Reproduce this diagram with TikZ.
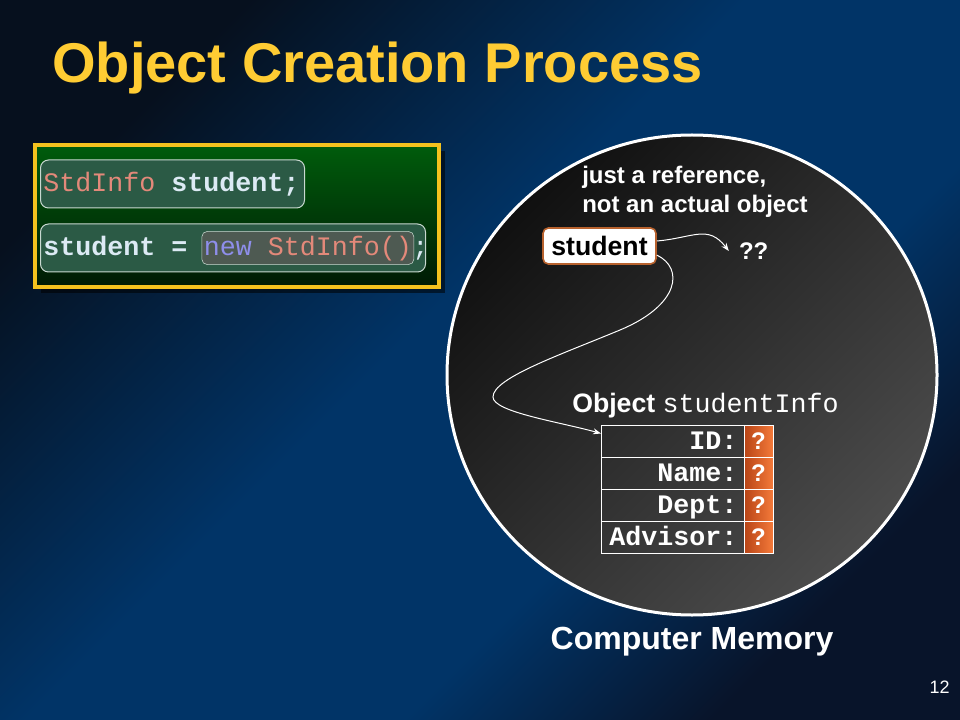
\documentclass[tikz,border=0pt]{standalone}
\usepackage{fontspec}
\setmainfont{Liberation Sans}
\setmonofont{Liberation Mono}
\usepackage{tikz}
\usetikzlibrary{arrows.meta, positioning, shapes.geometric, shadows}

\definecolor{bgDark}{HTML}{06101E}
\definecolor{bgNavy}{HTML}{013467}
\definecolor{bgDeep}{HTML}{08142A}
\definecolor{titleYellow}{HTML}{FFCC33}
\definecolor{panelYellow}{HTML}{F4C21E}
\definecolor{panelTop}{HTML}{005C0C}
\definecolor{panelBottom}{HTML}{001A04}
\definecolor{codeFill}{HTML}{2B5A45}
\definecolor{codeLine}{HTML}{C8D8D0}
\definecolor{codeWhite}{HTML}{DCEAF4}
\definecolor{typeSalmon}{HTML}{E3897A}
\definecolor{keywordBlue}{HTML}{8E8EEA}
\definecolor{hlFill}{HTML}{4E5A52}
\definecolor{memDark}{HTML}{101010}
\definecolor{memLight}{HTML}{4C4C4C}
\definecolor{refBorder}{HTML}{B8622E}
\definecolor{orangeDark}{HTML}{B84416}
\definecolor{orangeLight}{HTML}{F47A3A}

\pgfdeclarehorizontalshading{slideBack}{100bp}{color(0bp)=(bgDark); color(25bp)=(bgDark); color(46bp)=(bgNavy); color(62bp)=(bgNavy); color(75bp)=(bgDeep); color(100bp)=(bgDeep)}

\begin{document}
\begin{tikzpicture}[x=0.75pt, y=-0.75pt, node distance=2cm,
    codebox/.style={draw=codeLine, line width=0.75pt, fill=codeFill, rounded corners=6pt, minimum height=36pt, inner sep=0pt},
    codetext/.style={font=\ttfamily\bfseries\fontsize{20}{24}\selectfont, text=codeWhite, inner sep=0pt, text height=16pt, text depth=4pt},
    whitetext/.style={font=\bfseries\fontsize{18}{21.75}\selectfont, text=white, inner sep=0pt},
    labelcell/.style={draw=white, line width=0.75pt, outer sep=0pt, minimum height=24pt, text width=97.25pt, inner xsep=5pt, inner ysep=0pt, align=right, font=\ttfamily\bfseries\fontsize{20}{24}\selectfont, text=white, text height=15pt, text depth=3pt},
    valuecell/.style={draw=white, line width=0.75pt, outer sep=0pt, minimum width=21.75pt, minimum height=24pt, inner sep=0pt, left color=orangeDark, right color=orangeLight, font=\bfseries\fontsize{18}{22}\selectfont, text=white, text height=15pt, text depth=3pt},
    link/.style={draw=white, line width=0.75pt, -{Stealth[length=6pt, width=4.5pt]}}]

    % Slide background
    \useasboundingbox (0,0) rectangle (960,720);
    \shade[shading=slideBack, shading angle=-45] (0,0) rectangle (960,720);

    % Title
    \node (title) [anchor=base west, inner sep=0pt, text=titleYellow, font=\bfseries\fontsize{42}{50}\selectfont] at (52,83) {Object Creation Process};

    % Code panel with the two statements
    \node (codePanel) [draw=panelYellow, line width=3pt, top color=panelTop, bottom color=panelBottom, minimum width=303pt, minimum height=106.5pt, drop shadow={shadow xshift=4.5pt, shadow yshift=-4.5pt, fill=black, opacity=0.55}] at (237,216) {};
    \node (declBox) [codebox, minimum width=198pt, anchor=west] at (40,184) {};
    \node (declText) [codetext, anchor=west] at ([xshift=2.25pt]declBox.west) {\textcolor{typeSalmon}{\mdseries StdInfo} student;};
    \node (assignBox) [codebox, minimum width=288.75pt, anchor=west] at (40,248) {};
    \node (assignLhs) [codetext, anchor=west] at ([xshift=2.25pt]assignBox.west) {student =};
    \node (newExpr) [codetext, draw=codeLine, fill=hlFill, rounded corners=4pt, inner xsep=1.5pt, inner ysep=2.4pt, right=10.5pt of assignLhs] {\mdseries\textcolor{keywordBlue}{new} \textcolor{typeSalmon}{StdInfo()}};
    \node (assignEnd) [codetext, right=-1.5pt of newExpr] {\mdseries;};

    % Computer memory
    \node (memory) [ellipse, draw=white, line width=2.25pt, minimum width=367.5pt, minimum height=360pt, inner sep=0pt, top color=memDark, bottom color=memLight, shading angle=45] at (692,375) {};
    \node (memLabel) [whitetext, font=\bfseries\fontsize{24}{28}\selectfont, below=8pt of memory] {Computer Memory};

    % Reference variable
    \node (justRef) [whitetext, align=left, anchor=north west] at (582,166) {just a reference,\\not an actual object};
    \node (student) [draw=refBorder, line width=1.2pt, fill=white, rounded corners=4pt, minimum width=84.75pt, minimum height=27pt, inner sep=0pt, font=\bfseries\fontsize{20}{24}\selectfont] at (599.5,246) {student};
    \node (qmarks) [whitetext, inner xsep=7.5pt, right=54pt of student, yshift=-3.75pt] {??};

    % Object fields
    \node (objTitle) [whitetext, font=\bfseries\fontsize{20}{24}\selectfont, anchor=base west] at (572,412) {Object {\ttfamily\mdseries studentInfo}};
    \node (idLabel) [labelcell] at (672.5,441) {ID:};
    \node (nameLabel) [labelcell, below=0pt of idLabel] {Name:};
    \node (deptLabel) [labelcell, below=0pt of nameLabel] {Dept:};
    \node (advisorLabel) [labelcell, below=0pt of deptLabel] {Advisor:};
    \node (idValue) [valuecell, right=0pt of idLabel] {?};
    \node (nameValue) [valuecell, right=0pt of nameLabel] {?};
    \node (deptValue) [valuecell, right=0pt of deptLabel] {?};
    \node (advisorValue) [valuecell, right=0pt of advisorLabel] {?};

    % Arrows from the reference
    \draw[link] (student.5) .. controls (693,238) and (708,224) .. (qmarks.west);
    \draw[link] (student.-9) .. controls (684,268) and (680,305) .. (620,330)
        .. controls (560,355) and (493,378) .. (493,397)
        .. controls (493,412) and (560,422) .. (idLabel.174);

    % Page number
    \node (pageNum) [text=white, inner sep=0pt, anchor=base east, font=\fontsize{13.5}{16}\selectfont] at (950,693) {12};

\end{tikzpicture}
\end{document}
